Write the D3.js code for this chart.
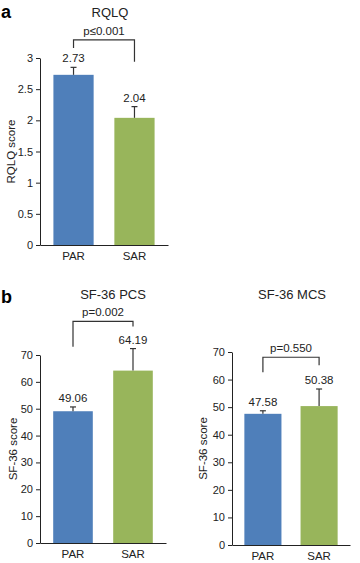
<!DOCTYPE html>
<html>
<head>
<meta charset="utf-8">
<script src="https://cdn.jsdelivr.net/npm/d3@7"></script>
<style>
  body { margin: 0; background: #fff; }
  svg { display: block; font-family: "Liberation Sans", Arial, sans-serif; }
</style>
</head>
<body>
<svg id="chart" width="360" height="563"></svg>
<script>
// data
const groups = ["PAR", "SAR"]
const rqlqMeans = [2.73, 2.04]
const rqlqErrors = [0.12, 0.18]
const pcsMeans = [49.06, 64.19]
const pcsErrors = [1.6, 8.2]
const mcsMeans = [47.58, 50.38]
const mcsErrors = [1.1, 6.2]
const rqlqTicks = [0, 0.5, 1, 1.5, 2, 2.5, 3]
const sfTicks = [0, 10, 20, 30, 40, 50, 60, 70]
const pLabels = ["p\u22640.001", "p=0.002", "p=0.550"]

const colors = ["#4f7fba", "#98b55b"]

const svg = d3.select("#chart")

const panels = [
  {
    title: "RQLQ", yLabel: "RQLQ score", means: rqlqMeans, errors: rqlqErrors,
    ticks: rqlqTicks, p: pLabels[0],
    x0: 40, x1: 168, yTop: 58, yBottom: 245, titleX: 110, titleY: 17,
    yLabelX: 11, bracket: [3.29, 3.16, 2.94], pOffset: 5
  },
  {
    title: "SF-36 PCS", yLabel: "SF-36 score", means: pcsMeans, errors: pcsErrors,
    ticks: sfTicks, p: pLabels[1],
    x0: 40, x1: 166, yTop: 355, yBottom: 543, titleX: 113, titleY: 299,
    yLabelX: 13, bracket: [82.5, 73.1, 80.6], pOffset: 5
  },
  {
    title: "SF-36 MCS", yLabel: "SF-36 score", means: mcsMeans, errors: mcsErrors,
    ticks: sfTicks, p: pLabels[2],
    x0: 232, x1: 350, yTop: 352, yBottom: 545, titleX: 292, titleY: 299,
    yLabelX: 203, bracket: [68.1, 62.7, 65.2], pOffset: 5
  }
]

panels.forEach(cfg => {
  const yMax = d3.max(cfg.ticks)
  const y = d3.scaleLinear().domain([0, yMax]).range([cfg.yBottom, cfg.yTop])
  const x = d3.scaleBand().domain(groups).range([cfg.x0, cfg.x1])
    .paddingInner(0.34).paddingOuter(0.22)

  const g = svg.append('g')

  // bars
  g.selectAll('rect.bar')
    .data(groups)
    .join('rect')
    .attr('class', 'bar')
    .attr('x', d => x(d))
    .attr('width', x.bandwidth())
    .attr('y', (d, i) => y(cfg.means[i]))
    .attr('height', (d, i) => y(0) - y(cfg.means[i]))
    .attr('fill', (d, i) => colors[i])

  // error bars
  groups.forEach((d, i) => {
    const cx = x(d) + x.bandwidth() / 2
    const top = y(cfg.means[i] + cfg.errors[i])
    g.append('line')
      .attr('x1', cx).attr('x2', cx)
      .attr('y1', y(cfg.means[i])).attr('y2', top)
      .attr('stroke', '#333').attr('stroke-width', 1.2)
    g.append('line')
      .attr('x1', cx - 3).attr('x2', cx + 3)
      .attr('y1', top).attr('y2', top)
      .attr('stroke', '#333').attr('stroke-width', 1.2)
    g.append('text')
      .attr('x', cx).attr('y', top - 5)
      .attr('text-anchor', 'middle')
      .attr('font-size', 11.5)
      .attr('fill', '#222')
      .text(cfg.means[i].toFixed(2))
  })

  // y axis
  const yAxis = d3.axisLeft(y).tickValues(cfg.ticks).tickSize(4).tickSizeOuter(0)
    .tickFormat(d3.format('~g'))
  const ya = g.append('g')
    .attr('transform', `translate(${cfg.x0}, 0)`)
    .call(yAxis)
  ya.select('.domain').attr('stroke', '#222')
  ya.selectAll('.tick line').attr('stroke', '#222')
  ya.selectAll('.tick text').attr('font-size', 11).attr('fill', '#222')
    .attr('font-family', '"Liberation Sans", Arial, sans-serif')

  // x axis
  const xAxis = d3.axisBottom(x).tickSize(0).tickSizeOuter(0).tickPadding(7)
  const xa = g.append('g')
    .attr('transform', `translate(0, ${cfg.yBottom})`)
    .call(xAxis)
  xa.select('.domain').attr('stroke', '#222').attr('stroke-width', 1.2)
  xa.selectAll('.tick text').attr('font-size', 11.5).attr('fill', '#222')
    .attr('font-family', '"Liberation Sans", Arial, sans-serif')

  // y label
  g.append('text')
    .attr('transform', `translate(${cfg.yLabelX + 4}, ${(cfg.yTop + cfg.yBottom) / 2}) rotate(-90)`)
    .attr('text-anchor', 'middle')
    .attr('font-size', 11.5)
    .attr('fill', '#222')
    .text(cfg.yLabel)

  // title
  g.append('text')
    .attr('x', cfg.titleX).attr('y', cfg.titleY)
    .attr('text-anchor', 'middle')
    .attr('font-size', 13)
    .attr('fill', '#222')
    .text(cfg.title)

  // significance bracket
  const bx0 = x(groups[0]) + x.bandwidth() / 2
  const bx1 = x(groups[1]) + x.bandwidth() / 2
  const [bTop, bLeft, bRight] = cfg.bracket
  g.append('path')
    .attr('d', `M${bx0},${y(bLeft)}V${y(bTop)}H${bx1}V${y(bRight)}`)
    .attr('fill', 'none')
    .attr('stroke', '#333')
    .attr('stroke-width', 1.2)
  g.append('text')
    .attr('x', (bx0 + bx1) / 2).attr('y', y(bTop) - cfg.pOffset)
    .attr('text-anchor', 'middle')
    .attr('font-size', 11.5)
    .attr('fill', '#222')
    .text(cfg.p)
})

// panel letters
svg.append('text').attr('x', 1).attr('y', 18)
  .attr('font-size', 18).attr('font-weight', 'bold').text('a')
svg.append('text').attr('x', 1).attr('y', 303)
  .attr('font-size', 18).attr('font-weight', 'bold').text('b')
</script>
</body>
</html>
